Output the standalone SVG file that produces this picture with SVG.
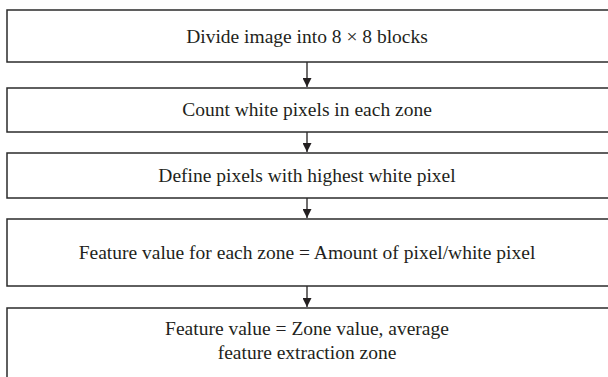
<svg xmlns="http://www.w3.org/2000/svg" width="608" height="377" viewBox="0 0 608 377">
<defs>
<style>
.box{fill:#fff;stroke:#2b2b2b;stroke-width:1.5}
.t{font-family:"Liberation Serif",serif;font-size:19.5px;fill:#231f20;text-anchor:middle}
.c{stroke:#231f20;stroke-width:1.3;fill:none}
</style>
<marker id="ah" viewBox="0 0 10 10" refX="10" refY="5" markerWidth="11" markerHeight="9" markerUnits="userSpaceOnUse" orient="auto">
<path d="M0,0 L10,5 L0,10 z" fill="#231f20"/>
</marker>
</defs>
<rect width="608" height="377" fill="#fff"/>
<g id="connectors">
<line class="c" x1="307" y1="62" x2="307" y2="87" marker-end="url(#ah)"/>
<line class="c" x1="307" y1="132" x2="307" y2="152" marker-end="url(#ah)"/>
<line class="c" x1="307" y1="198" x2="307" y2="218" marker-end="url(#ah)"/>
<line class="c" x1="307" y1="286" x2="307" y2="307" marker-end="url(#ah)"/>
</g>
<g id="n1"><rect class="box" x="7" y="10" width="610" height="52"/><text class="t" x="307" y="43">Divide image into 8 × 8 blocks</text></g>
<g id="n2"><rect class="box" x="7" y="88" width="610" height="44"/><text class="t" x="307" y="116">Count white pixels in each zone</text></g>
<g id="n3"><rect class="box" x="7" y="153" width="610" height="45"/><text class="t" x="307" y="182">Define pixels with highest white pixel</text></g>
<g id="n4"><rect class="box" x="7" y="219" width="610" height="67"/><text class="t" x="307" y="259">Feature value for each zone = Amount of pixel/white pixel</text></g>
<g id="n5"><rect class="box" x="7" y="308" width="610" height="80"/><text class="t" x="307" y="335">Feature value = Zone value, average</text><text class="t" x="307" y="359">feature extraction zone</text></g>
</svg>
